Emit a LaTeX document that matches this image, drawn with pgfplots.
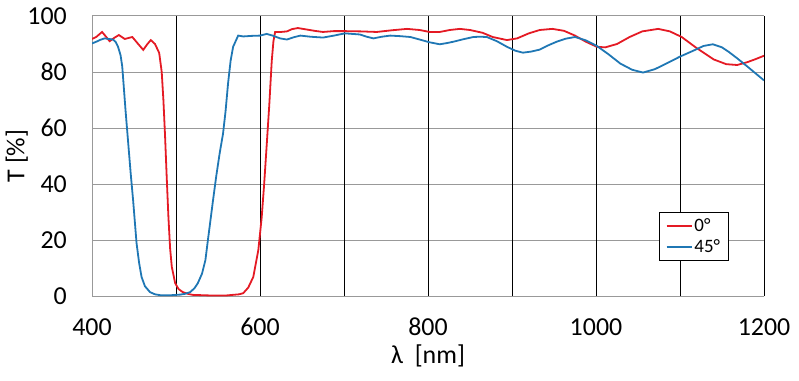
\documentclass[border=0pt]{standalone}
\usepackage{pgfplots}
\pgfplotsset{compat=1.18}
\usepackage{fontspec}
\setmainfont{Carlito}
\definecolor{cred}{RGB}{228,26,36}
\definecolor{cblue}{RGB}{31,119,180}
\begin{document}
\begin{tikzpicture}
\begin{axis}[
  scale only axis, width=672bp, height=280bp,
  xmin=400, xmax=1200, ymin=0, ymax=100,
  xtick={400,600,...,1200}, ytick={0,20,...,100},
  major tick length=0pt, minor tick length=0pt,
  /pgf/number format/assume math mode=true,
  /pgf/number format/1000 sep={},
  tick label style={font=\fontsize{26}{30}\selectfont, inner sep=0pt},
  xticklabel style={anchor=north, yshift=-22bp},
  yticklabel style={anchor=east, xshift=-25bp},
  axis line style={draw=gray!80, line width=1bp},
  axis x line*=bottom, axis y line*=left,
  ymajorgrids, major grid style={gray!80, line width=1bp},
  extra x ticks={500,600,...,1200}, extra x tick labels={},
  extra x tick style={xmajorgrids=true, ymajorgrids=false, major grid style={black, line width=1bp}},
  xlabel={λ\ \ [nm]}, ylabel={T [\%]},
  label style={font=\fontsize{26}{30}\selectfont},
  x label style={at={(axis description cs:0.5,-0.215)}, anchor=center},
  y label style={at={(axis description cs:-0.112,0.5)}, anchor=center, rotate=0},
  legend style={at={(rel axis cs:0.844,0.3)}, anchor=north west, draw=black, line width=1bp,
    font=\fontsize{19}{21}\selectfont, inner xsep=6bp, inner ysep=4bp, row sep=3bp, fill=white,
    /tikz/every even column/.append style={column sep=2bp}},
  legend cell align=left,
  legend image code/.code={\draw[#1, line width=1.8bp] (0bp,0bp) -- (25bp,0bp);},
]
\addplot[cred, line width=1.8bp] coordinates {
(400,91.8)(405,92.5)(412,94.3)(417,92.5)(421,91)(427,92.3)(432,93.2)(439,91.8)(448,92.5)
(455,90)(461,87.9)(466,90)(470,91.4)(475,90)(480,86.8)(483,80)(485,70)(487,57)(489,42)
(491,28)(493,17)(495,10.4)(499,4.6)(503,2.5)(508,1.4)(515,0.7)(520,0.4)(540,0.2)
(560,0.2)(575,0.6)(580,1)(586,3)(592,6.8)(598,16.4)(602,28)(605,40.2)(608,54)(611,68)
(614,84)(616,91)(618,94.3)(625,94.3)(632,94.5)(638,95.3)(645,95.7)(655,95.2)(665,94.7)
(675,94.3)(688,94.6)(701,94.6)(720,94.5)(739,94.3)(757,94.9)(775,95.4)(790,95)(802,94.3)
(814,94.3)(826,95)(838,95.4)(850,95)(865,94)(877,92.5)(894,91.4)(906,92)(920,93.8)
(933,95)(948,95.4)(962,94.7)(975,93)(988,90.8)(1001,89)(1011,88.8)(1025,90)(1040,92.5)
(1055,94.5)(1074,95.4)(1088,94.5)(1102,92.5)(1120,88.5)(1140,84.5)(1155,82.8)(1168,82.5)
(1180,83.5)(1190,84.6)(1200,85.8)
};
\addlegendentry{0°}
\addplot[cblue, line width=1.8bp] coordinates {
(400,90.2)(405,90.8)(410,91.5)(415,92)(420,91.8)(425,91.6)(428,90.8)(431,89)(434,86)
(436,82)(438,74)(440,66)(443,55)(446,44)(449,34)(453,19)(456,12)(459,6.8)(463,3.5)
(469,1.4)(475,0.6)(481,0.3)(495,0.3)(505,0.5)(511,0.8)(517,1.4)(522,2.8)(526,4.6)(531,8)
(535,12.8)(538,20)(541,27)(544,34)(548,43)(552,51)(556,58)(559,66)(562,76)(565,84)(568,89)
(574,93)(580,92.7)(590,92.9)(600,93)(608,93.6)(615,93)(624,92)(632,91.6)(640,92.4)
(648,93)(660,92.6)(675,92.3)(688,93)(701,93.8)(710,93.6)(719,93.4)(727,92.6)(735,92)
(745,92.6)(755,93)(767,92.8)(779,92.5)(790,91.6)(802,90.6)(814,89.9)(822,90.3)(830,90.8)
(842,91.7)(854,92.5)(862,92.6)(870,92.5)(882,91)(894,89)(904,87.6)(913,86.9)(923,87.3)
(933,88)(943,89.5)(953,90.8)(964,91.9)(975,92.5)(988,91.3)(1001,89.3)(1015,86.3)(1029,83)
(1043,80.8)(1056,79.8)(1070,81)(1085,83.2)(1100,85.5)(1115,87.5)(1128,89.3)(1139,89.9)
(1150,88.8)(1158,87.2)(1168,84.9)(1180,82)(1190,79.5)(1200,77)
};
\addlegendentry{45°}
\end{axis}
\pgfresetboundingbox
\path ([shift={(-92bp,-84bp)}]current axis.south west) rectangle ([shift={(35bp,16bp)}]current axis.north east);
\end{tikzpicture}
\end{document}
